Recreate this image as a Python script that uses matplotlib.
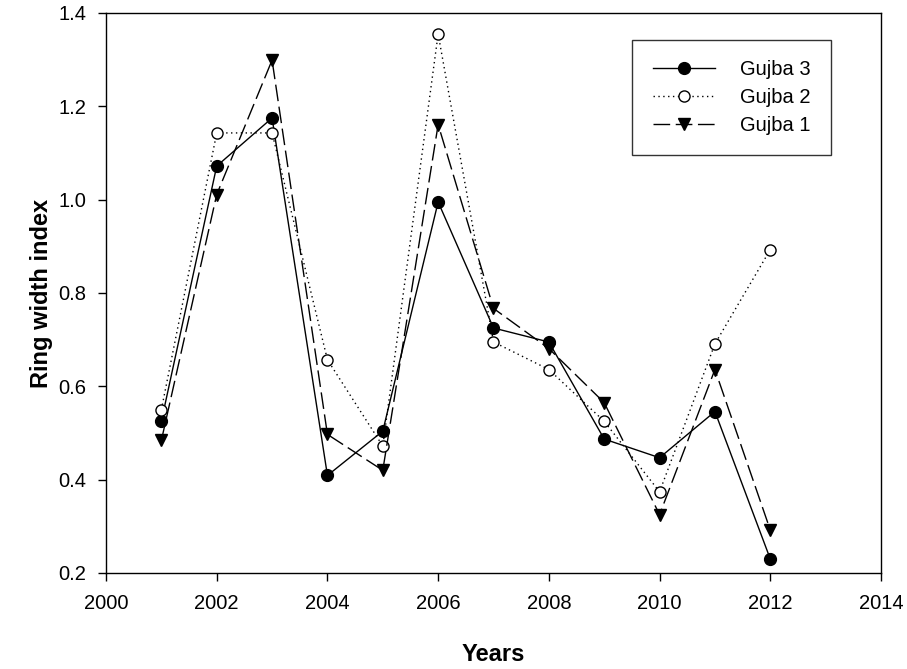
import matplotlib
matplotlib.use("Agg")
import matplotlib.pyplot as plt

years = [2001, 2002, 2003, 2004, 2005, 2006, 2007, 2008, 2009, 2010, 2011, 2012]
gujba3 = [0.525, 1.072, 1.175, 0.409, 0.504, 0.995, 0.725, 0.695, 0.487, 0.447, 0.546, 0.230]
gujba2 = [0.550, 1.143, 1.143, 0.657, 0.472, 1.355, 0.695, 0.636, 0.525, 0.374, 0.691, 0.893]
gujba1 = [0.484, 1.011, 1.299, 0.497, 0.420, 1.161, 0.767, 0.681, 0.565, 0.325, 0.636, 0.292]
xticks = [2000, 2002, 2004, 2006, 2008, 2010, 2012, 2014]
yticks = [0.2, 0.4, 0.6, 0.8, 1.0, 1.2, 1.4]

plt.rcParams['font.family'] = ['Liberation Sans', 'DejaVu Sans']

fig = plt.figure(figsize=(9.07, 6.69), dpi=100)
ax = fig.add_axes([106/907, 1-573/669, (881-106)/907, (573-13)/669])

ax.plot(years, gujba3, color='black', linestyle='-', linewidth=1.0,
        marker='o', markersize=8.5, markerfacecolor='black', markeredgecolor='black',
        label='Gujba 3')
ax.plot(years, gujba2, color='black', linestyle=(0, (1, 2.5)), linewidth=1.0,
        marker='o', markersize=8.0, markerfacecolor='white', markeredgecolor='black',
        markeredgewidth=1.0, label='Gujba 2')
ax.plot(years, gujba1, color='black', linestyle=(0, (12, 4)), linewidth=1.0,
        marker='v', markersize=9.0, markerfacecolor='black', markeredgecolor='black',
        label='Gujba 1')

ax.set_xlim(2000, 2014)
ax.set_ylim(0.2, 1.4)
ax.set_xticks(xticks)
ax.set_xticklabels([str(v) for v in xticks])
ax.set_yticks(yticks)
ax.set_yticklabels([f"{v:.1f}" for v in yticks])
ax.tick_params(axis='both', direction='out', length=6, width=1.0, labelsize=14.5,
               top=False, right=False)
ax.tick_params(axis='x', pad=9)
ax.tick_params(axis='y', pad=8)
for s in ax.spines.values():
    s.set_linewidth(1.0)

ax.set_xlabel('Years', fontsize=17, fontweight='bold', labelpad=21.5)
ax.set_ylabel('Ring width index', fontsize=17, fontweight='bold', labelpad=4)

leg = ax.legend(loc='upper right', bbox_to_anchor=(831/907, 1-40/669),
                bbox_transform=fig.transFigure, fontsize=14.5, frameon=True,
                fancybox=False, edgecolor='black', handlelength=3.1,
                handletextpad=1.25, borderpad=1.0, labelspacing=0.45,
                borderaxespad=0)
leg.get_frame().set_linewidth(1.0)

fig.savefig('out.png', dpi=100, facecolor='white')
